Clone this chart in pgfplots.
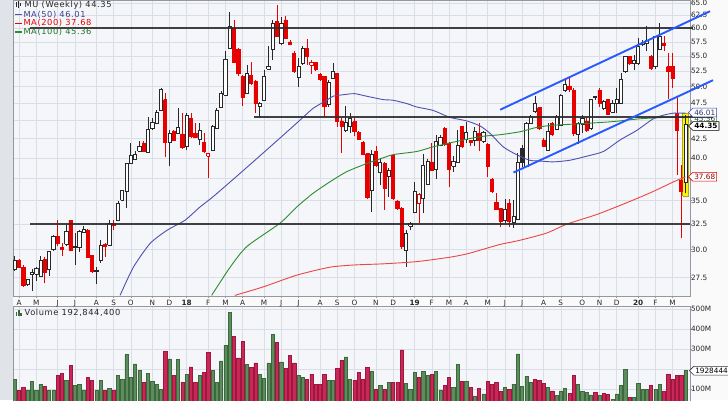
\documentclass[border=0pt]{standalone}
\usepackage{pgfplots}
\pgfplotsset{compat=1.18}
\usepackage{pgfplotstable}
\usepackage{fontspec}
\setmainfont{DejaVu Sans}
\newfontfamily\legfont[LetterSpace=7]{DejaVu Sans}
\usetikzlibrary{shapes.symbols}

\definecolor{pagebg}{RGB}{250,250,251}
\definecolor{stripbg}{RGB}{224,227,232}
\definecolor{plotbg}{RGB}{244,246,250}
\definecolor{gridc}{RGB}{218,222,230}
\definecolor{framec}{RGB}{150,152,158}
\definecolor{cred}{RGB}{230,0,0}
\definecolor{cblk}{RGB}{40,40,40}
\definecolor{ma50}{RGB}{80,80,175}
\definecolor{ma100}{RGB}{45,140,45}
\definecolor{ma200}{RGB}{235,70,70}
\definecolor{trend}{RGB}{40,90,255}
\definecolor{hline}{RGB}{45,45,45}
\definecolor{vgreen}{RGB}{95,140,95}
\definecolor{vgreenD}{RGB}{60,105,60}
\definecolor{vred}{RGB}{200,40,88}
\definecolor{vredD}{RGB}{160,22,62}
\definecolor{hiyel}{RGB}{250,240,20}

\pgfplotstableread{
i o h l c
0 28.2 29.4 28.1 29.0
1 29.0 29.1 28.3 28.4
2 28.4 28.6 26.7 26.8
3 26.9 27.4 26.8 27.3
4 27.8 28.2 26.4 27.9
5 27.8 28.4 27.2 28.3
6 27.6 29.4 27.6 29.0
7 29.1 29.3 27.0 27.9
8 28.2 29.9 27.6 29.8
9 30.0 31.4 29.9 31.3
10 31.3 32.9 30.3 30.6
11 30.2 30.6 29.4 30.0
12 30.5 32.4 30.3 31.8
13 32.9 32.9 29.9 29.9
14 30.2 31.6 28.6 30.3
15 30.2 31.9 29.8 31.8
16 31.7 32.3 31.6 32.0
17 31.9 32.0 29.3 29.3
18 29.5 29.5 27.9 28.0
19 28.0 28.4 26.9 28.1
20 29.0 30.9 28.8 30.4
21 30.5 30.6 29.3 30.3
22 30.4 32.9 30.4 32.6
23 32.6 32.9 31.9 32.4
24 32.9 34.9 32.8 34.7
25 35.05 36.2 34.9 36.1
26 36.0 39.4 34.2 39.3
27 39.3 41.9 39.3 40.3
28 39.8 40.8 39.7 40.4
29 40.8 42.1 40.7 41.5
30 41.9 42.1 40.8 40.8
31 40.7 45.4 40.7 43.7
32 43.8 45.3 43.7 44.7
33 44.5 46.4 44.4 46.1
34 46.4 49.7 46.3 49.6
35 48.0 49.0 40.1 42.0
36 42.0 43.7 39.0 43.2
37 43.4 43.7 42.1 42.3
38 43.2 46.7 43.1 44.0
39 43.1 46.0 41.1 41.3
40 41.5 46.0 41.0 45.7
41 45.3 46.0 42.5 42.8
42 43.2 44.6 42.5 42.7
43 42.4 44.6 41.7 43.6
44 42.0 43.2 40.6 40.8
45 40.2 40.6 37.5 40.5
46 40.9 44.3 40.8 44.1
47 43.9 46.7 43.8 46.4
48 46.8 49.3 46.7 48.9
49 48.7 55.8 48.6 54.4
50 56.3 63.2 56.2 60.3
51 60.0 61.6 53.8 54.0
52 56.2 56.4 51.6 52.1
53 51.6 51.8 47.0 48.3
54 48.9 53.5 48.8 52.1
55 51.8 54.0 50.2 50.5
56 50.8 51.0 46.0 47.4
57 47.0 47.6 45.4 47.5
58 47.9 52.7 47.8 51.6
59 52.8 56.7 52.7 53.2
60 56.1 61.6 54.3 61.0
61 61.3 64.6 58.5 58.6
62 57.2 62.2 56.9 61.0
63 61.6 62.3 58.0 58.2
64 57.5 57.8 56.9 57.0
65 55.5 55.8 52.2 52.4
66 51.4 54.6 49.9 53.2
67 53.7 56.7 53.5 56.4
68 56.4 58.0 53.5 55.0
69 53.5 54.3 52.0 54.0
70 53.9 54.0 52.5 52.7
71 52.0 52.1 50.8 51.1
72 51.6 51.7 45.5 47.0
73 47.3 51.0 46.9 50.6
74 51.3 53.8 51.2 52.5
75 52.1 52.2 44.1 44.8
76 44.9 45.3 40.6 44.2
77 43.6 47.1 43.3 44.7
78 44.1 46.0 43.2 45.3
79 44.8 45.3 42.8 43.5
80 43.3 43.5 42.3 42.4
81 42.0 42.1 40.3 40.4
82 40.5 40.6 35.2 35.3
83 36.1 41.0 33.8 40.4
84 40.8 41.5 38.9 39.1
85 38.2 40.0 36.7 39.4
86 39.3 39.5 34.0 36.4
87 37.7 38.7 35.4 38.5
88 40.3 40.4 35.05 35.2
89 34.9 35.05 34.0 34.1
90 34.1 34.3 30.1 30.3
91 29.9 31.9 28.4 31.6
92 32.3 32.7 31.9 32.6
93 33.7 37.1 33.6 36.0
94 34.7 35.8 32.6 35.7
95 35.2 40.5 33.6 39.1
96 36.8 39.8 36.7 39.6
97 39.5 41.9 38.4 38.5
98 38.6 43.0 37.4 42.1
99 41.6 42.9 41.5 42.6
100 43.9 44.0 41.5 41.7
101 41.9 42.0 36.5 38.6
102 39.0 40.2 38.3 39.6
103 39.5 43.7 39.4 41.6
104 44.1 44.2 41.3 41.5
105 42.4 44.8 41.9 43.3
106 42.2 42.3 41.5 42.0
107 42.3 44.1 41.5 43.5
108 43.2 44.6 40.8 42.2
109 42.1 43.5 41.9 43.3
110 41.7 41.9 37.7 39.0
111 37.4 37.5 35.8 36.0
112 34.8 35.8 34.0 34.0
113 34.1 34.2 32.2 32.8
114 32.9 35.2 32.6 34.0
115 34.7 35.2 32.2 32.8
116 32.7 35.1 32.1 33.3
117 33.0 40.6 32.9 39.4
118 41.2 41.7 38.9 39.5
119 38.9 44.8 38.9 44.6
120 44.6 45.7 44.5 45.5
121 46.3 48.5 46.0 47.4
122 46.8 46.9 43.7 43.9
123 42.3 42.5 41.4 41.5
124 41.0 44.6 40.9 43.4
125 44.6 44.8 42.8 43.0
126 43.7 45.7 43.6 45.5
127 44.3 48.9 44.2 48.7
128 49.4 51.0 49.2 50.3
129 50.1 51.3 49.2 49.5
130 49.4 49.7 42.8 43.2
131 43.0 44.8 41.8 44.5
132 44.4 45.7 43.2 45.3
133 44.9 45.3 43.4 43.6
134 43.9 48.1 43.7 48.0
135 48.3 48.6 47.9 48.5
136 49.4 49.7 46.9 47.4
137 46.7 47.9 46.4 47.7
138 48.0 48.1 45.7 45.9
139 46.1 47.9 46.0 47.4
140 47.5 49.7 46.0 48.0
141 47.4 52.1 47.3 51.1
142 52.4 55.0 52.2 54.9
143 54.9 55.0 53.5 53.8
144 53.7 55.2 52.7 54.3
145 53.7 58.2 53.5 56.7
146 57.0 57.8 56.7 57.5
147 57.2 60.4 55.8 57.8
148 55.0 55.2 52.7 52.9
149 53.2 58.6 52.9 58.5
150 56.1 61.1 56.0 58.6
151 57.2 58.5 55.8 56.9
152 53.2 55.5 48.1 52.4
153 53.2 55.5 49.7 51.3
154 46.0 48.4 37.9 43.6
155 37.3 39.1 31.1 36.0
156 37.1 45.7 35.8 44.35
}\candles

\pgfplotstableread{
i v g
0 150 1
1 93 0
2 110 0
3 97 1
4 141 1
5 93 1
6 125 1
7 116 0
8 97 1
9 97 1
10 168 0
11 179 0
12 143 1
13 219 0
14 120 1
15 125 1
16 97 1
17 160 0
18 145 0
19 97 1
20 143 1
21 93 0
22 106 1
23 97 0
24 168 1
25 148 1
26 272 1
27 160 1
28 226 1
29 196 1
30 136 0
31 179 1
32 141 1
33 123 1
34 101 1
35 289 0
36 252 1
37 168 0
38 249 1
39 136 0
40 176 1
41 211 0
42 136 0
43 171 1
44 184 0
45 282 0
46 194 1
47 136 1
48 241 1
49 320 1
50 481 1
51 365 0
52 256 0
53 337 0
54 224 1
55 209 0
56 232 0
57 174 1
58 156 1
59 232 1
60 373 1
61 334 0
62 237 1
63 204 0
64 267 0
65 232 0
66 168 1
67 160 1
68 150 0
69 176 0
70 126 0
71 126 0
72 176 0
73 145 1
74 145 1
75 204 0
76 244 0
77 261 1
78 150 1
79 146 0
80 184 0
81 150 0
82 209 0
83 188 1
84 100 0
85 121 1
86 100 0
87 135 1
88 135 0
89 135 0
90 296 0
91 130 1
92 100 1
93 183 1
94 160 0
95 188 1
96 171 1
97 176 0
98 188 1
99 97 1
100 118 0
101 160 0
102 110 1
103 224 1
104 140 0
105 140 1
106 110 0
107 67 1
108 105 0
109 77 1
110 138 0
111 126 0
112 135 0
113 88 0
114 110 1
115 100 0
116 126 1
117 276 1
118 116 1
119 166 1
120 135 1
121 150 0
122 145 0
123 128 0
124 110 1
125 92 0
126 70 1
127 92 1
128 103 1
129 80 0
130 169 0
131 125 1
132 88 1
133 83 1
134 72 1
135 83 0
136 70 1
137 80 0
138 75 0
139 50 1
140 77 1
141 120 1
142 199 1
143 58 0
144 58 1
145 130 1
146 100 1
147 100 1
148 118 0
149 100 1
150 126 1
151 88 0
152 176 0
153 150 0
154 171 0
155 171 0
156 192.8444 1
}\volumes

\pgfplotstablegetrowsof{\candles}
\pgfmathtruncatemacro{\lastrow}{\pgfplotsretval-1}

\def\monthticks{1,5,10,14,19,23,27,32,36,40,45,49,53,58,62,66,71,75,79,84,88,93,97,101,105,110,114,118,123,127,132,136,140,145,149,153}

\begin{document}
\begin{tikzpicture}[x=1pt,y=1pt]
\path[use as bounding box] (0,0) rectangle (728,400);
\clip (0,0) rectangle (728,400);
\fill[pagebg] (0,0) rectangle (728,400);
\fill[stripbg] (0,0) rectangle (13.3,400);

% ---------------- volume panel (drawn first) ----------------
\begin{axis}[
  at={(13.3pt,-9.4pt)}, anchor=south west,
  scale only axis, width=676.7pt, height=102.7pt,
  xmin=-0.33, xmax=157.05, ymin=0, ymax=511,
  axis background/.style={fill=plotbg},
  axis line style={framec, line width=0.6pt},
  xtick=\empty,
  ytick={100,200,300,400,500},
  yticklabels={100M,{},300M,400M,500M},
  yticklabel pos=right, ytick pos=right,
  ymajorgrids,
  grid style={gridc, line width=0.5pt},
  tick style={framec, line width=0.5pt},
  major tick length=2pt, tick align=outside,
  ticklabel style={font=\fontsize{7.3}{8}\selectfont, text=black!85},
  yticklabel style={inner sep=0pt, xshift=-1.2pt},
]
\foreach \m in \monthticks {
  \edef\temp{\noexpand\addplot[gridc, line width=0.5pt, forget plot] coordinates {(\m,0) (\m,511)};}\temp
}
\addplot[ybar, bar width=3.2pt, bar shift=0pt, fill=vgreen, draw=vgreenD, line width=0.5pt, forget plot] table[x=i, y expr=\thisrow{g}*\thisrow{v}] {\volumes};
\addplot[ybar, bar width=3.2pt, bar shift=0pt, fill=vred, draw=vredD, line width=0.5pt, forget plot] table[x=i, y expr=(1-\thisrow{g})*\thisrow{v}] {\volumes};
\end{axis}

% green MA(100) value box (partly hidden behind the line and other boxes)
\node[signal, signal to=west, draw=ma100, fill=white, line width=0.6pt, inner xsep=1.5pt, inner ysep=1.6pt, anchor=west, font=\fontsize{7.3}{8}\selectfont, text=ma100!60!black] at (688,281.3) {45.36};

% ---------------- price panel ----------------
\begin{axis}[
  at={(13.3pt,104pt)}, anchor=south west,
  scale only axis, width=676.7pt, height=296pt,
  xmin=-0.33, xmax=157.05,
  ymode=log, ymin=25.95, ymax=65.57,
  axis background/.style={fill=plotbg},
  axis line style={framec, line width=0.6pt},
  clip=false,
  xtick/.expand once=\monthticks,
  xticklabels={A,M,J,J,A,S,O,N,D,\textbf{18},F,M,A,M,J,J,A,S,O,N,D,\textbf{19},F,M,A,M,J,J,A,S,O,N,D,\textbf{20},F,M},
  ytick={27.5,30,32.5,35,37.5,40,42.5,45,47.5,50,52.5,55,57.5,60,62.5,65},
  yticklabels={27.5,30.0,32.5,35.0,{},40.0,42.5,{},47.5,50.0,52.5,55.0,57.5,60.0,62.5,65.0},
  yticklabel pos=right, ytick pos=right, xtick pos=left,
  xmajorgrids, ymajorgrids,
  grid style={gridc, line width=0.5pt},
  tick style={framec, line width=0.5pt},
  major tick length=2pt, tick align=outside,
  ticklabel style={font=\fontsize{7.3}{8}\selectfont, text=black!85},
  xticklabel style={inner sep=0pt, yshift=-1.8pt},
  yticklabel style={inner sep=0pt, xshift=-1.2pt},
]
% highlight of the last bar
\addplot[fill=hiyel, draw=hiyel!70!black, line width=0.4pt, forget plot] coordinates {(155.35,35.5) (156.65,35.5) (156.65,46.0) (155.35,46.0) (155.35,35.5)};

\foreach \r in {0,...,\lastrow}{
  \pgfplotstablegetelem{\r}{o}\of\candles\let\vo\pgfplotsretval
  \pgfplotstablegetelem{\r}{h}\of\candles\let\vh\pgfplotsretval
  \pgfplotstablegetelem{\r}{l}\of\candles\let\vl\pgfplotsretval
  \pgfplotstablegetelem{\r}{c}\of\candles\let\vc\pgfplotsretval
  \ifnum\r>0
    \pgfmathtruncatemacro\rp{\r-1}
    \pgfplotstablegetelem{\rp}{c}\of\candles\let\vp\pgfplotsretval
  \else
    \let\vp\vo
  \fi
  \ifdim\vc pt<\vp pt \def\col{cred}\else\def\col{cblk}\fi
  \ifdim\vc pt<\vo pt \edef\fil{\col}\else\def\fil{white}\fi
  \pgfmathsetmacro\xa{\r-0.38}
  \pgfmathsetmacro\xb{\r+0.38}
  \edef\temp{%
    \noexpand\addplot[draw=\col, line width=0.7pt, forget plot] coordinates {(\r,\vl) (\r,\vh)};
    \noexpand\addplot[draw=\col, fill=\fil, line width=0.7pt, forget plot] coordinates {(\xa,\vo) (\xb,\vo) (\xb,\vc) (\xa,\vc) (\xa,\vo)};
  }\temp
}

% moving averages
\addplot[ma200, line width=0.9pt, smooth, tension=0.4, forget plot] coordinates {
(51.2,26.0) (57.8,26.7) (65.6,27.7) (73.3,28.4) (79.1,28.6) (85.7,28.7) (93.5,28.9) (101.2,29.3) (105.1,29.6) (108.2,29.95) (112.9,30.5) (117.5,30.9) (123.7,31.6) (128.4,32.5) (135.4,33.5) (143.1,34.9) (148.5,36.0) (153.2,37.1) (156.0,37.68)};
\addplot[ma100, line width=0.9pt, smooth, tension=0.4, forget plot] coordinates {
(45.8,26.0) (50.1,28.4) (54.0,30.3) (61.7,32.6) (65.6,34.3) (69.4,35.8) (73.3,37.1) (77.2,38.3) (81.9,39.3) (85.7,40.0) (88.0,40.4) (93.5,40.8) (97.3,41.4) (101.2,41.9) (105.1,42.4) (109.0,42.8) (112.9,43.0) (117.5,43.4) (121.4,44.0) (125.3,44.3) (131.5,44.5) (139.1,44.8) (145.4,45.2) (151.7,45.4) (156.0,45.36)};
\addplot[ma50, line width=0.9pt, smooth, tension=0.4, forget plot] coordinates {
(24.5,26.0) (27.6,28.4) (31.5,30.6) (35.5,31.9) (39.6,32.9) (43.1,34.3) (46.1,35.4) (52.4,38.1) (59.4,41.4) (65.6,44.6) (69.4,46.7) (72.6,47.9) (74.0,48.5) (77.2,48.8) (79.1,48.9) (81.9,48.5) (85.7,48.0) (88.0,47.9) (91.2,47.4) (93.5,46.9) (97.3,46.4) (101.2,45.4) (105.1,44.9) (108.2,44.2) (110.5,43.2) (113.6,41.4) (116.7,40.4) (119.8,39.7) (122.2,39.6) (125.3,39.5) (129.1,39.7) (133.0,40.2) (136.9,40.8) (140.8,42.3) (144.7,43.6) (148.5,45.2) (150.8,45.7) (153.2,46.0) (156.0,46.01)};

% horizontal support / resistance lines
\addplot[hline, line width=1.9pt, opacity=0.9, forget plot] coordinates {(3.6,60) (157.8,60)};
\addplot[hline, line width=1.9pt, opacity=0.9, forget plot] coordinates {(55.7,45.4) (162.4,45.4)};
\addplot[hline, line width=1.9pt, opacity=0.9, forget plot] coordinates {(3.6,32.5) (157.05,32.5)};
% trend channel
\addplot[trend, line width=1.9pt, forget plot] coordinates {(112.9,46.5) (161.7,63.3)};
\addplot[trend, line width=1.9pt, forget plot] coordinates {(116.0,38.2) (162.4,51.0)};
\end{axis}

% legend texts (top left)
\fill[cblk] (15.5,393) rectangle (16.7,397.5);
\fill[cblk] (17.8,392) rectangle (19.0,398.5);
\fill[cblk] (20.1,393.5) rectangle (21.3,397);
\node[anchor=west, inner sep=0pt, font=\legfont\fontsize{8.3}{9}\selectfont, text=black!85] at (24.5,395) {MU (Weekly) 44.35};
\draw[ma50, line width=1.3pt] (15,385.3) -- (22,385.3);
\node[anchor=west, inner sep=0pt, font=\legfont\fontsize{8.3}{9}\selectfont, text=ma50!80!black] at (23.3,385.3) {MA(50) 46.01};
\draw[cred, line width=1.3pt] (15,376.7) -- (22,376.7);
\node[anchor=west, inner sep=0pt, font=\legfont\fontsize{8.3}{9}\selectfont, text=cred] at (23.3,376.7) {MA(200) 37.68};
\draw[ma100, line width=1.3pt] (15,368) -- (22,368);
\node[anchor=west, inner sep=0pt, font=\legfont\fontsize{8.3}{9}\selectfont, text=ma100!80!black] at (23.3,368) {MA(100) 45.36};

% volume title
\fill[vgreenD] (16,84) rectangle (17.3,88);
\fill[vgreenD] (18.2,84) rectangle (19.5,90);
\fill[vgreenD] (20.4,84) rectangle (21.7,87);
\node[anchor=west, inner sep=0pt, font=\legfont\fontsize{8.3}{9}\selectfont, text=black!85] at (24.5,86.7) {Volume 192,844,400};

% right value boxes
\node[signal, signal to=west, draw=ma50!80!blue, fill=white, line width=0.6pt, inner xsep=1.5pt, inner ysep=1.6pt, anchor=west, font=\fontsize{7.3}{8}\selectfont, text=ma50!60!black] at (688,287.5) {46.01};
\node[signal, signal to=west, draw=black, fill=white, line width=0.7pt, inner xsep=1.5pt, inner ysep=1.6pt, anchor=west, font=\fontsize{7.3}{8}\selectfont\bfseries, text=black] at (688,274) {44.35};
\node[signal, signal to=west, draw=cred, fill=white, line width=0.6pt, inner xsep=1.5pt, inner ysep=1.6pt, anchor=west, font=\fontsize{7.3}{8}\selectfont, text=cred!60!black] at (688,223.2) {37.68};
\node[signal, signal to=west, draw=black!80, fill=white, line width=0.6pt, inner xsep=1.5pt, inner ysep=1.6pt, anchor=west, font=\fontsize{7.3}{8}\selectfont, text=black] at (689,29.3) {192844400};
\end{tikzpicture}
\end{document}
